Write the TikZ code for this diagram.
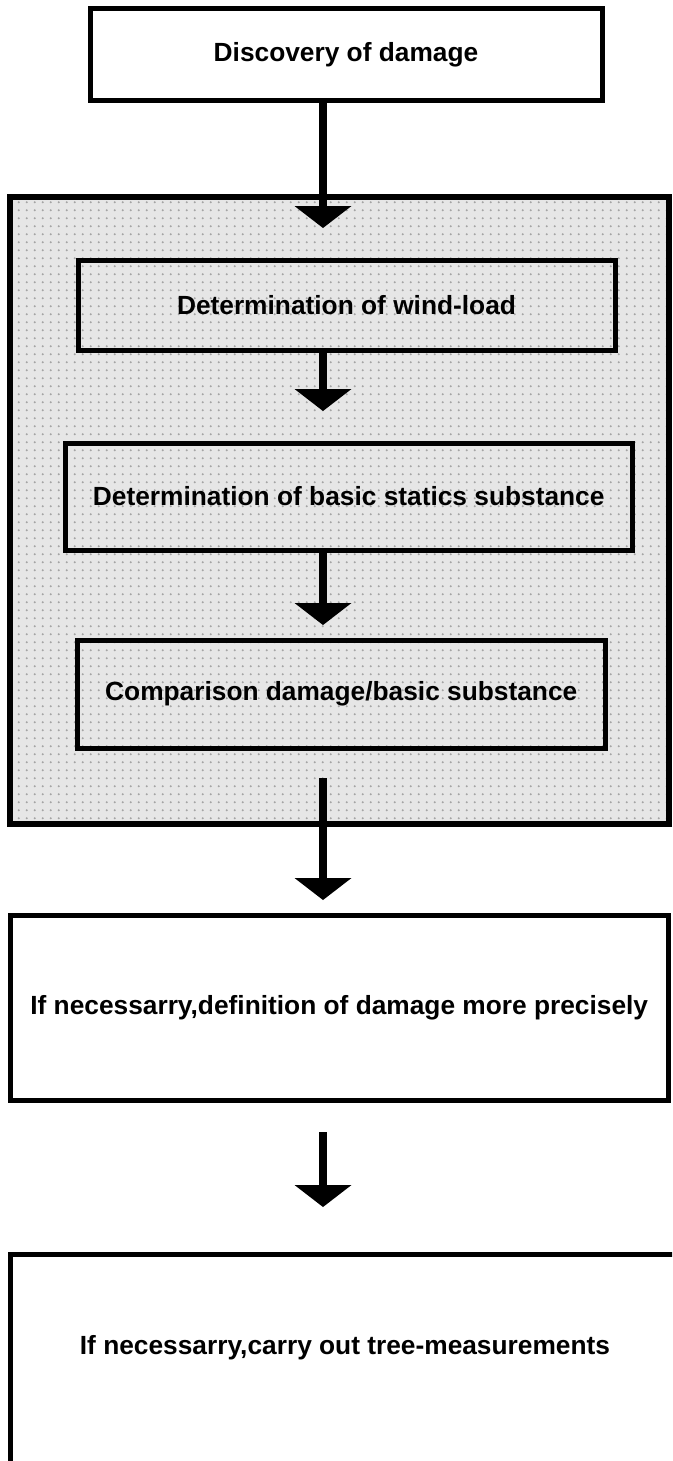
\documentclass[tikz,border=0pt]{standalone}
\usepackage{fontspec}
\setmainfont{Liberation Sans}
\usetikzlibrary{arrows.meta,patterns.meta}
\definecolor{dotbase}{HTML}{E6E6E6}
\definecolor{dotcol}{HTML}{A4A4A4}
\tikzdeclarepattern{
  name=graydots,
  type=uncolored,
  bounding box={(0pt,0pt) and (7.7pt,7.7pt)},
  tile size={(7.7pt,7.7pt)},
  code={\fill (3.85pt,3.85pt) circle (1.15pt);}
}
\begin{document}
\begin{tikzpicture}[x=1pt,y=-1pt,
  box/.style={draw=black, line width=5pt, rectangle, inner sep=0pt, outer sep=0pt,
    align=center, font=\fontsize{26.3}{30}\selectfont\bfseries},
  boxtext/.style={inner sep=0pt, outer sep=0pt, font=\fontsize{26.3}{30}\selectfont\bfseries},
  dotted panel/.style={preaction={fill=dotbase}, pattern=graydots, pattern color=dotcol},
  flow/.style={line width=8pt, draw=black, -{Triangle[width=57pt,length=22pt,line width=0pt]}},
]
\path[use as bounding box, clip] (0,0) rectangle (672,1461);
\fill[white] (0,0) rectangle (672,1461);

% grey panel
\node[box, line width=6pt, dotted panel, minimum width=659pt, minimum height=627pt] (panel) at (339.5,510.5) {};

% boxes
\node[box, fill=white, minimum width=512pt, minimum height=92pt] (top) at (346,55) {Discovery of damage};
\node[box, minimum width=537pt, minimum height=89.5pt] (wind) at (346.5,305.25) {Determination of wind-load};
\node[box, minimum width=566.5pt, minimum height=107pt] (basic) at (348.75,496.5) {Determination of basic statics substance};
\node[box, minimum width=527.5pt, minimum height=107.5pt] (comp) at (341.25,694.25) {Comparison damage/basic substance};
\node[box, fill=white, minimum width=657.5pt, minimum height=185pt] (precise) at (339.25,1008) {If necessarry,definition of damage more precisely};
\node[box, fill=white, anchor=north west, minimum width=700pt, minimum height=300pt] (last) at (10.5,1254) {};
\node[boxtext] (lasttext) at (345,1348) {If necessarry,carry out tree-measurements};

% arrows
\coordinate (ax) at (323,0);
\draw[flow, shorten >=32.5pt] (top.south -| ax) -- (wind.north -| ax);
\draw[flow, shorten >=32pt] (wind.south -| ax) -- (basic.north -| ax);
\draw[flow, shorten >=15.5pt] (basic.south -| ax) -- (comp.north -| ax);
\draw[flow, shorten <=30pt, shorten >=15.5pt] (comp.south -| ax) -- (precise.north -| ax);
\draw[flow, shorten <=31.5pt, shorten >=47pt] (precise.south -| ax) -- (last.north -| ax);
\end{tikzpicture}
\end{document}
